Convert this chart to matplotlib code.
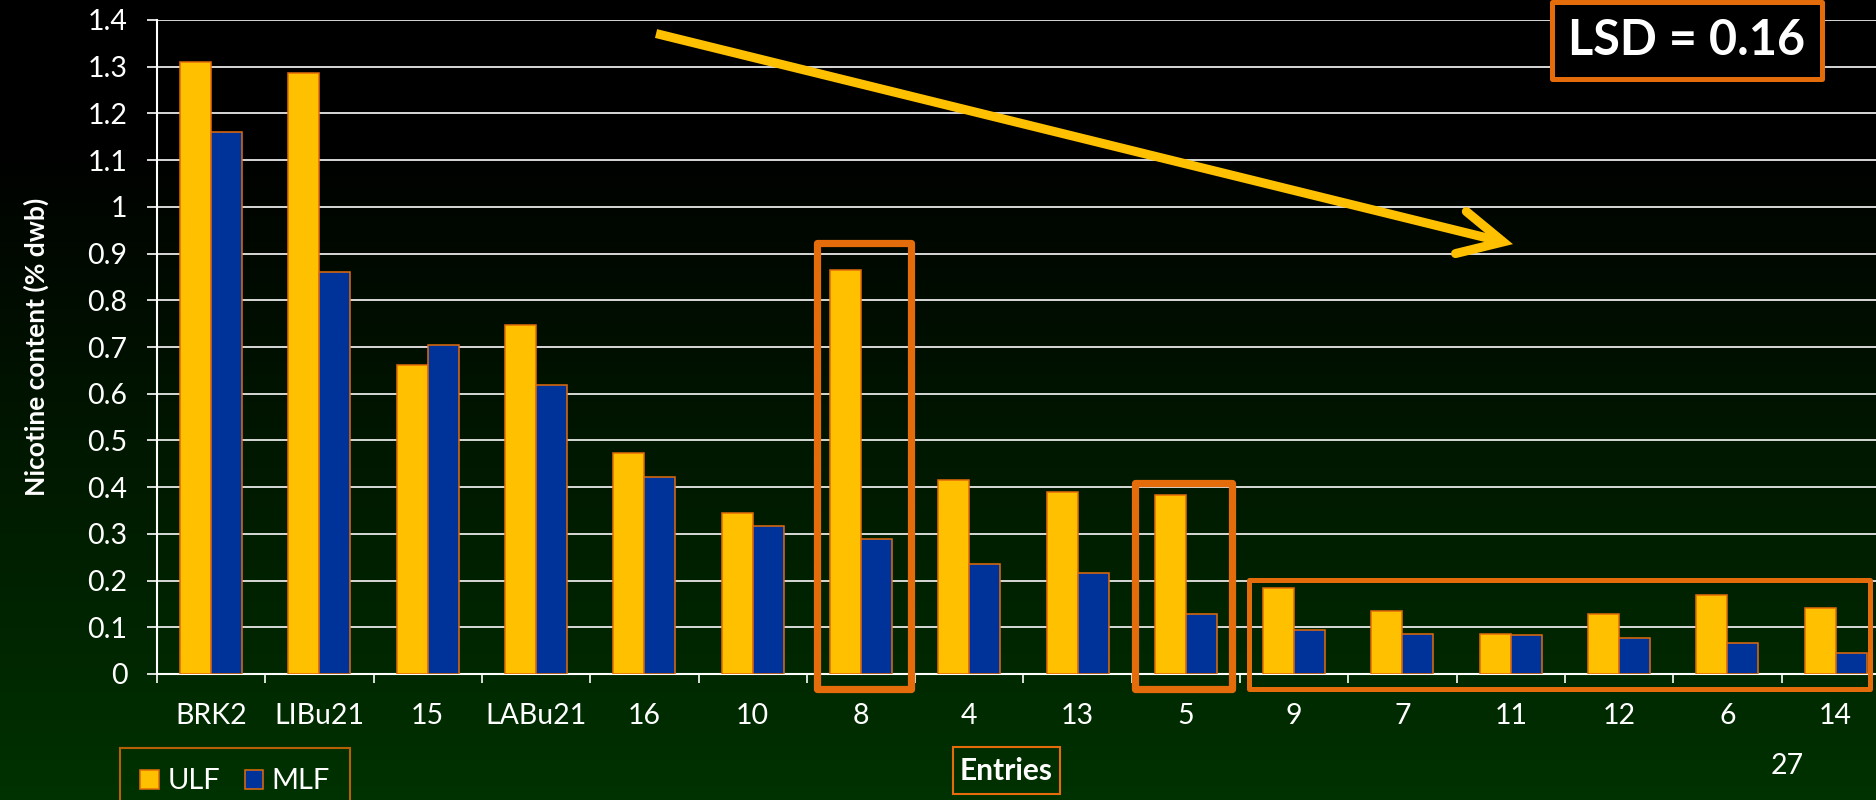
import numpy as np
import matplotlib
matplotlib.use("Agg")
import matplotlib.pyplot as plt
from matplotlib.patches import Rectangle
from matplotlib.lines import Line2D

# ---- data -------------------------------------------------------------
entries = ["BRK2", "LIBu21", "15", "LABu21", "16", "10", "8", "4",
           "13", "5", "9", "7", "11", "12", "6", "14"]
ulf = [1.310, 1.286, 0.661, 0.747, 0.474, 0.344, 0.864, 0.416,
       0.389, 0.384, 0.185, 0.134, 0.086, 0.129, 0.169, 0.141]
mlf = [1.161, 0.861, 0.704, 0.619, 0.421, 0.316, 0.289, 0.236,
       0.216, 0.129, 0.094, 0.086, 0.084, 0.076, 0.066, 0.044]
y_ticks = [0.0, 0.1, 0.2, 0.3, 0.4, 0.5, 0.6, 0.7, 0.8, 0.9, 1.0, 1.1, 1.2, 1.3, 1.4]
y_tick_labels = ["0", "0.1", "0.2", "0.3", "0.4", "0.5", "0.6", "0.7",
                 "0.8", "0.9", "1", "1.1", "1.2", "1.3", "1.4"]
series_names = ["ULF", "MLF"]
lsd_text = "LSD = 0.16"
slide_number = "27"

# ---- style ------------------------------------------------------------
plt.rcParams["font.family"] = ["Lato", "DejaVu Sans"]
YELLOW = "#FFC000"
BLUE = "#003399"
ORANGE = "#E46C0A"
WHITE = "white"

W, H = 1876, 800
fig = plt.figure(figsize=(W / 100, H / 100), dpi=100)

# dark slide background: black fading into deep green
bg = fig.add_axes([0, 0, 1, 1])
yy = np.linspace(0, 1, H)
g = np.clip((yy - 0.17) / 0.83, 0, 1) * (50 / 255)
grad = np.zeros((H, 1, 3))
grad[:, 0, 1] = g
bg.imshow(grad, aspect="auto", extent=[0, 1, 0, 1], origin="upper")
bg.set_axis_off()

cat_w = 108.3
ax = fig.add_axes([157 / W, 126 / H, 16 * cat_w / W, 654 / H])
ax.set_facecolor("none")
ax.set_zorder(2)

x = np.arange(len(entries))
bw = 0.286
ax.bar(x - bw / 2, ulf, bw, color=YELLOW, edgecolor=ORANGE, linewidth=1.1,
       label=series_names[0], zorder=3)
ax.bar(x + bw / 2, mlf, bw, color=BLUE, edgecolor=ORANGE, linewidth=1.1,
       label=series_names[1], zorder=3)

ax.set_xlim(-0.5, len(entries) - 0.5)
ax.set_ylim(0, 1.4)

ax.set_yticks(y_ticks)
ax.set_yticklabels(y_tick_labels)
ax.yaxis.grid(True, color="#E8E8E8", linewidth=1.3)
ax.set_axisbelow(True)

ax.set_xticks(x)
ax.set_xticklabels(entries)
ax.set_xticks(np.arange(-0.5, len(entries), 1), minor=True)

ax.tick_params(axis="y", which="major", direction="out", length=7.2, width=1.2,
               color=WHITE, labelcolor=WHITE, labelsize=20.5, pad=14)
ax.tick_params(axis="x", which="major", length=0, labelcolor=WHITE,
               labelsize=20.5, pad=21)
ax.tick_params(axis="x", which="minor", direction="out", length=6.5, width=1.2,
               color=WHITE)

for side in ("top", "right"):
    ax.spines[side].set_visible(False)
for side in ("left", "bottom"):
    ax.spines[side].set_color(WHITE)
    ax.spines[side].set_linewidth(1.5)

# axis titles
fig.text(36 / W, 1 - 347 / H, "Nicotine content (% dwb)", rotation=90,
         color=WHITE, fontsize=19, fontweight="bold", ha="center", va="center")
fig.text(1006 / W, 1 - 771 / H, "Entries", color=WHITE, fontsize=21.5,
         fontweight="bold", ha="center", va="center")
fig.patches.append(Rectangle((953 / W, 1 - 794 / H), 107 / W, 47 / H,
                             transform=fig.transFigure, fill=False,
                             edgecolor=ORANGE, linewidth=1.5))

# legend
leg = ax.legend(loc="upper left", bbox_to_anchor=(120 / W, 1 - 748 / H),
                bbox_transform=fig.transFigure, ncol=2, fontsize=21,
                frameon=True, fancybox=False, borderaxespad=0,
                handlelength=0.62, handleheight=0.62, handletextpad=0.3,
                columnspacing=0.85, borderpad=0.7)
leg.get_frame().set_facecolor("none")
leg.get_frame().set_edgecolor(ORANGE)
leg.get_frame().set_linewidth(1.5)
for t in leg.get_texts():
    t.set_color(WHITE)

fig.text(1787 / W, 1 - 766 / H, slide_number, color=WHITE, fontsize=20.5,
         ha="center", va="center")


# highlight frames around groups of entries
def frame(x0, x1, y0, y1, lw, fill=None):
    r = Rectangle((x0, y0), x1 - x0, y1 - y0, fill=fill is not None,
                  facecolor=fill if fill else "none", edgecolor=ORANGE,
                  linewidth=lw, joinstyle="round", clip_on=False, zorder=6)
    ax.add_patch(r)


frame(5.59, 6.465, -0.033, 0.922, 5.2)
frame(8.535, 9.43, -0.033, 0.408, 5.2)
frame(9.58, 15.32, -0.033, 0.201, 3.6)
frame(12.385, 14.87, 1.274, 1.439, 3.6, fill="black")
ax.text((12.385 + 14.87) / 2, (1.274 + 1.439) / 2, lsd_text, color=WHITE,
        fontsize=35, fontweight="bold", ha="center", va="center",
        clip_on=False, zorder=7)

# downward trend arrow
tip = (11.93, 0.925)
ax.add_line(Line2D([4.108, tip[0]], [1.371, tip[1]], color=YELLOW, linewidth=6.5,
                   solid_capstyle="butt", clip_on=False, zorder=6))
ax.add_line(Line2D([11.59, tip[0], 11.49], [0.990, tip[1], 0.900], color=YELLOW,
                   linewidth=6.5, solid_capstyle="round", solid_joinstyle="miter",
                   clip_on=False, zorder=6))

fig.savefig("out.png", dpi=100)
